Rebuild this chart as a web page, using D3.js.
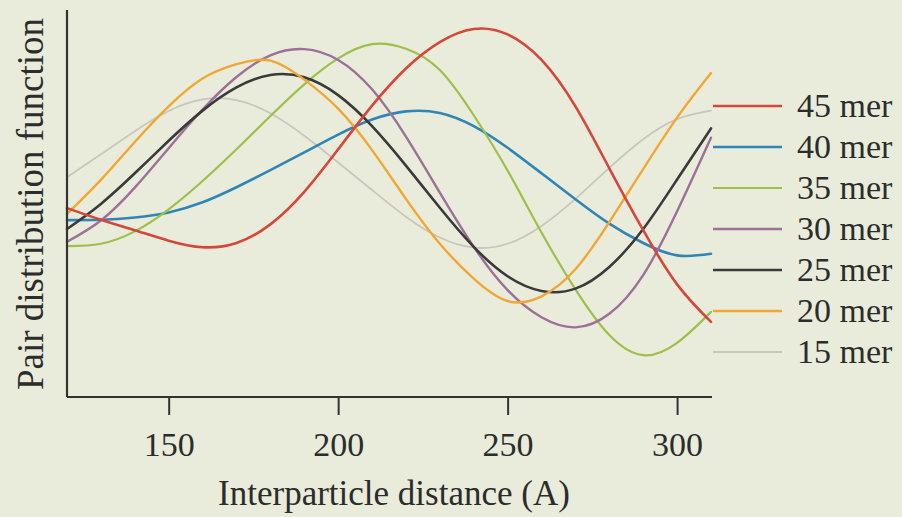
<!DOCTYPE html>
<html>
<head>
<meta charset="utf-8">
<script src="https://cdn.jsdelivr.net/npm/d3@7"></script>
<style>
  html, body { margin: 0; padding: 0; background: #e9ecdb; }
  svg { display: block; }
  text { font-family: "Liberation Serif", "Times New Roman", serif; fill: #2c2c2c; }
</style>
</head>
<body>
<svg id="chart" width="902" height="517"></svg>
<script>
// Interparticle distance samples (Å)
const distance = [120, 130, 140, 150, 160, 170, 180, 190, 200, 210, 220, 230, 240, 250, 260, 270, 280, 290, 300, 310];

// Pair distribution function, arbitrary units (0–100)
const mer45 = [48.8, 45.8, 43.1, 40.4, 38.7, 39.8, 44.6, 53.0, 64.0, 75.3, 84.9, 91.7, 95.1, 93.7, 87.1, 75.1, 59.1, 43.1, 29.1, 19.4];
const mer40 = [45.7, 45.8, 46.4, 47.7, 50.3, 54.2, 58.6, 63.2, 67.8, 71.7, 73.8, 73.4, 70.0, 64.4, 57.8, 51.1, 44.8, 39.8, 36.6, 37.0];
const mer35 = [39.0, 39.6, 42.8, 48.5, 55.8, 64.0, 72.6, 80.8, 87.5, 91.2, 90.0, 84.5, 72.8, 58.5, 42.5, 27.8, 16.0, 10.8, 14.0, 22.0];
const mer30 = [40.1, 45.6, 54.1, 64.3, 74.3, 82.7, 88.3, 89.9, 87.1, 79.5, 67.3, 52.8, 38.8, 27.6, 20.6, 18.0, 21.5, 31.5, 48.0, 67.0];
const mer25 = [43.4, 49.9, 57.8, 66.2, 74.0, 80.0, 83.2, 82.6, 78.0, 70.0, 59.8, 48.9, 38.8, 31.2, 27.4, 28.0, 33.6, 43.4, 56.2, 69.4];
const mer20 = [47.3, 56.1, 65.9, 75.1, 82.3, 86.0, 86.9, 82.0, 74.5, 63.8, 51.2, 39.6, 30.6, 24.8, 26.0, 33.0, 45.2, 58.9, 72.2, 83.7];
const mer15 = [56.8, 62.7, 68.7, 73.9, 76.9, 76.7, 73.3, 67.5, 60.6, 53.5, 46.6, 41.2, 38.6, 39.6, 44.2, 51.2, 59.2, 66.6, 71.8, 74.0];

const seriesNames = ["45 mer", "40 mer", "35 mer", "30 mer", "25 mer", "20 mer", "15 mer"];
const seriesValues = [mer45, mer40, mer35, mer30, mer25, mer20, mer15];
const seriesColors = ["#d5473a", "#2f86b6", "#9cc04a", "#9d6f99", "#3a3a3a", "#f2a634", "#c9c6bd"];
const seriesWidths = [2.6, 2.6, 2.2, 2.4, 2.6, 2.4, 1.8];

const xTicks = [150, 200, 250, 300];
const xLabel = "Interparticle distance (A)";
const yLabel = "Pair distribution function";

const svg = d3.select("#chart");
const plot = { left: 67, right: 712, top: 10, bottom: 397 };

const x = d3.scaleLinear().domain([120, 310.3]).range([plot.left, plot.right]);
const y = d3.scaleLinear().domain([0, 100]).range([plot.bottom, plot.bottom - 387]);

// Curves
const line = d3.line()
  .x((d, i) => x(distance[i]))
  .y(d => y(d))
  .curve(d3.curveNatural);

const order = [6, 1, 2, 3, 4, 5, 0]; // faint curve underneath
svg.append("g")
  .selectAll("path")
  .data(order)
  .join("path")
  .attr("d", k => line(seriesValues[k]))
  .attr("fill", "none")
  .attr("stroke", k => seriesColors[k])
  .attr("stroke-width", k => seriesWidths[k])
  .attr("stroke-linecap", "round");

// Axes
const xAxis = d3.axisBottom(x).tickValues(xTicks).tickSize(18).tickPadding(17).tickFormat(d3.format("d"));
const gx = svg.append("g").attr("transform", `translate(0,${plot.bottom})`).call(xAxis);
gx.select(".domain").attr("d", `M${plot.left},0H${plot.right}`).attr("stroke", "#333").attr("stroke-width", 2.2);
gx.selectAll(".tick line").attr("stroke", "#333").attr("stroke-width", 2);
gx.selectAll(".tick text")
  .attr("font-size", 34)
  .attr("font-family", "Liberation Serif, Times New Roman, serif")
  .attr("fill", "#2c2c2c")
  .attr("dy", "0.71em");

const yAxis = d3.axisLeft(y).tickValues([]).tickSize(0);
const gy = svg.append("g").attr("transform", `translate(${plot.left},0)`).call(yAxis);
gy.select(".domain").attr("d", `M0,${plot.top}V${plot.bottom}`).attr("stroke", "#333").attr("stroke-width", 2.2);

// Axis titles
svg.append("text")
  .attr("x", 394)
  .attr("y", 505)
  .attr("text-anchor", "middle")
  .attr("font-size", 35)
  .text(xLabel);

svg.append("text")
  .attr("transform", "translate(43,204) rotate(-90)")
  .attr("text-anchor", "middle")
  .attr("font-size", 37)
  .text(yLabel);

// Legend
const legend = svg.append("g").attr("transform", "translate(713,106)");
const items = legend.selectAll("g")
  .data(seriesNames)
  .join("g")
  .attr("transform", (d, i) => `translate(0,${i * 41})`);
items.append("line")
  .attr("x1", 0).attr("x2", 69).attr("y1", 0).attr("y2", 0)
  .attr("stroke", (d, i) => seriesColors[i])
  .attr("stroke-width", (d, i) => seriesWidths[i]);
items.append("text")
  .attr("x", 84)
  .attr("y", 11)
  .attr("font-size", 34)
  .text(d => d);
</script>
</body>
</html>
